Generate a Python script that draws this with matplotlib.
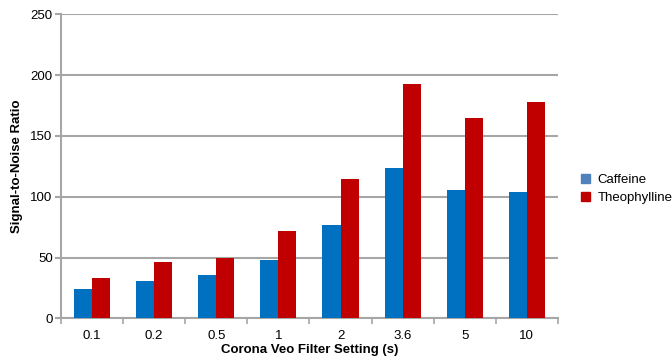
import matplotlib.pyplot as plt
import numpy as np
from matplotlib.patches import Patch

plt.rcParams['font.family'] = ['Liberation Sans', 'DejaVu Sans']

settings = ['0.1', '0.2', '0.5', '1', '2', '3.6', '5', '10']
caffeine = [24, 31, 36, 48, 76.5, 124, 105.5, 104]
theophylline = [33.5, 46, 50, 72, 115, 192.5, 164.5, 177.5]

BLUE = '#0070C0'
RED = '#C00000'
GRID = '#A6A6A6'

fig = plt.figure(figsize=(6.72, 3.57), dpi=100)
ax = fig.add_axes([0.0908, 0.108, 0.7394, 0.852])

x = np.arange(len(settings))
w = 0.29
ax.bar(x - w / 2, caffeine, w, color=BLUE, zorder=3)
ax.bar(x + w / 2, theophylline, w, color=RED, zorder=3)

ax.set_xlim(-0.5, len(settings) - 0.5)
ax.set_ylim(0, 250)
ax.set_yticks(range(0, 251, 50))
ax.yaxis.grid(True, color=GRID, linewidth=1.5, zorder=0)

# category ticks sit between the groups, labels at the group centres
ax.set_xticks(np.arange(-0.5, len(settings)), minor=False)
ax.set_xticklabels([])
ax.set_xticks(x, minor=True)
ax.set_xticklabels(settings, minor=True)
ax.tick_params(axis='x', which='major', direction='out', length=4, width=1.2, color=GRID)
ax.tick_params(axis='x', which='minor', length=0, labelsize=9.5, pad=8)
ax.tick_params(axis='y', direction='out', length=4, width=1.5, color=GRID, labelsize=9.5, pad=2)

for side in ('top', 'right'):
    ax.spines[side].set_visible(False)
for side in ('left', 'bottom'):
    ax.spines[side].set_color(GRID)
    ax.spines[side].set_linewidth(1.5)

ax.set_xlabel('Corona Veo Filter Setting (s)', fontsize=9.5, fontweight='bold', labelpad=2)
ax.set_ylabel('Signal-to-Noise Ratio', fontsize=9.5, fontweight='bold', labelpad=5)

handles = [Patch(color='#4F81BD'), Patch(color=RED)]
fig.legend(handles, ['Caffeine', 'Theophylline'], loc='center left',
           bbox_to_anchor=(0.864, 0.47), frameon=False, fontsize=9.5,
           handlelength=0.7, handleheight=0.7, handletextpad=0.6, labelspacing=0.45,
           borderaxespad=0, borderpad=0)

fig.savefig('out.png', dpi=100)
